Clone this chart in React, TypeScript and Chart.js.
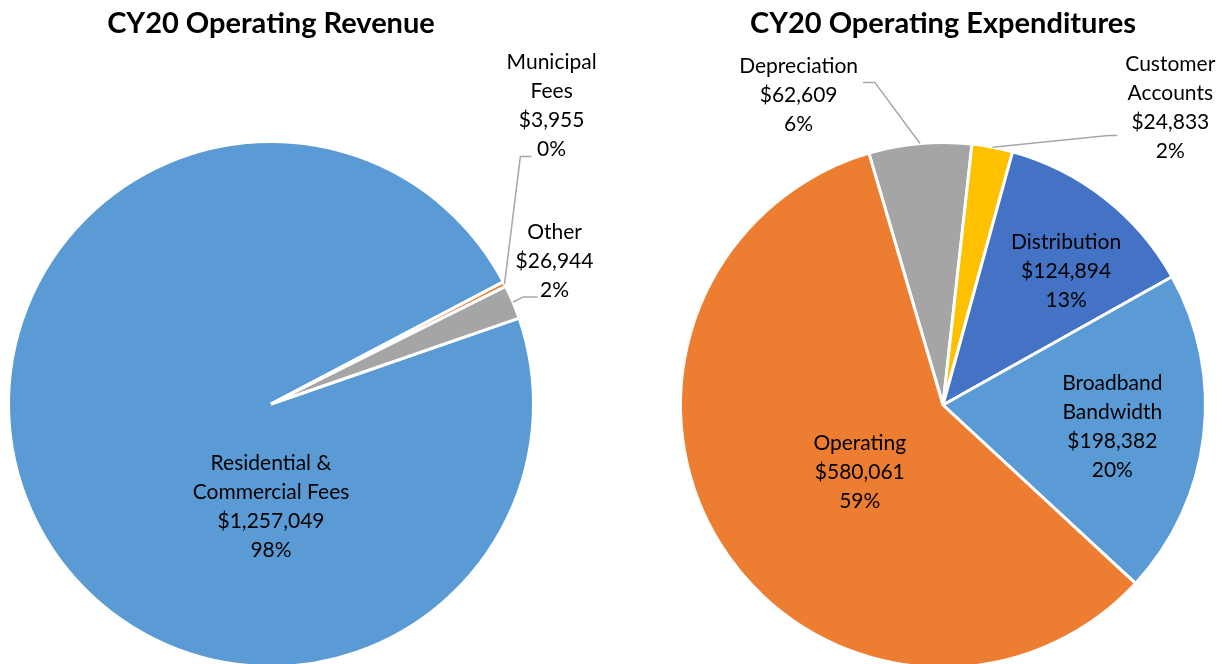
import React, { useEffect, useRef } from "react";
import { Chart, registerables } from "chart.js";

Chart.register(...registerables);

// ---------- data ----------
const revenueTitle = "CY20 Operating Revenue";
const revenueCategories = [["Residential &", "Commercial Fees"], ["Municipal", "Fees"], ["Other"]];
const revenueValues = [1257049, 3955, 26944];
const revenuePercents = ["98%", "0%", "2%"];

const expenseTitle = "CY20 Operating Expenditures";
const expenseCategories = [["Depreciation"], ["Customer", "Accounts"], ["Distribution"], ["Broadband", "Bandwidth"], ["Operating"]];
const expenseValues = [62609, 24833, 124894, 198382, 580061];
const expensePercents = ["6%", "2%", "13%", "20%", "59%"];

// ---------- styles / layout ----------
const revenueColors = ["#5B9BD5", "#ED7D31", "#A5A5A5"];
const expenseColors = ["#A5A5A5", "#FFC000", "#4472C4", "#5B9BD5", "#ED7D31"];

type LabelLayout = { x: number; y: number; leader?: number[][] };
// label block centres and leader points, in units of the pie radius, relative to the pie centre
const revenueLabelLayout: LabelLayout[] = [
  { x: 0.0, y: 0.39 },
  { x: 1.069, y: -1.139, leader: [[0.992, -0.943], [0.95, -0.943]] },
  { x: 1.08, y: -0.546, leader: [[1.015, -0.408], [0.962, -0.408]] },
];
const expenseLabelLayout: LabelLayout[] = [
  { x: -0.55, y: -1.181, leader: [[-0.305, -1.229], [-0.26, -1.229]] },
  { x: 0.866, y: -1.135, leader: [[0.664, -1.027], [0.63, -1.027]] },
  { x: 0.469, y: -0.511 },
  { x: 0.645, y: 0.08 },
  { x: -0.317, y: 0.256 },
];

const FONT = "Lato, 'Open Sans', sans-serif";
const LINE_H = 29;

function fmtMoney(v: number) {
  return "$" + v.toLocaleString("en-US");
}

function labelPlugin(title: string, cats: string[][], values: number[], percents: string[], layout: LabelLayout[]) {
  return {
    id: "pieLabels",
    afterDraw(chart: any) {
      const ctx = chart.ctx as CanvasRenderingContext2D;
      const meta = chart.getDatasetMeta(0);
      const first = meta.data[0];
      const cx = first.x;
      const cy = first.y;
      const R = first.outerRadius;
      ctx.save();
      ctx.fillStyle = "#000";
      ctx.textAlign = "center";
      ctx.textBaseline = "alphabetic";
      ctx.font = `bold 29px ${FONT}`;
      ctx.fillText(title, cx, 33);

      ctx.font = `21px ${FONT}`;
      meta.data.forEach((arc: any, i: number) => {
        const lay = layout[i];
        const lines = [...cats[i], fmtMoney(values[i]), percents[i]];
        const bx = cx + lay.x * R;
        const by = cy + lay.y * R;
        lines.forEach((ln, j) => {
          const y = by + (j - (lines.length - 1) / 2) * LINE_H + 7;
          ctx.fillText(ln, bx, y);
        });
        if (lay.leader) {
          const mid = (arc.startAngle + arc.endAngle) / 2;
          ctx.beginPath();
          ctx.strokeStyle = "#A6A6A6";
          ctx.lineWidth = 1.5;
          lay.leader.forEach((p, k) => {
            const px = cx + p[0] * R;
            const py = cy + p[1] * R;
            if (k === 0) ctx.moveTo(px, py);
            else ctx.lineTo(px, py);
          });
          ctx.lineTo(cx + Math.cos(mid) * R, cy + Math.sin(mid) * R);
          ctx.stroke();
        }
      });
      ctx.restore();
    },
  };
}

function PieChart(props: {
  width: number;
  height: number;
  padding: { left: number; right: number; top: number; bottom: number };
  rotation: number;
  title: string;
  cats: string[][];
  values: number[];
  percents: string[];
  colors: string[];
  layout: LabelLayout[];
}) {
  const ref = useRef<HTMLCanvasElement>(null);
  useEffect(() => {
    const canvas = ref.current!;
    const chart = new Chart(canvas, {
      type: "pie",
      data: {
        labels: props.cats.map((c) => c.join(" ")),
        datasets: [
          {
            data: props.values,
            backgroundColor: props.colors,
            borderColor: "#FFFFFF",
            borderWidth: 3,
          },
        ],
      },
      options: {
        responsive: false,
        animation: false,
        rotation: props.rotation,
        layout: { padding: props.padding },
        plugins: {
          legend: { display: false },
          tooltip: { enabled: false },
          title: { display: false },
        },
      },
      plugins: [labelPlugin(props.title, props.cats, props.values, props.percents, props.layout)],
    } as any);
    return () => chart.destroy();
  }, []);
  return <canvas ref={ref} width={props.width} height={props.height} style={{ display: "block" }} />;
}

export default function App() {
  return (
    <div
      style={{
        position: "absolute",
        left: 0,
        top: 0,
        width: 1229,
        height: 664,
        overflow: "hidden",
        background: "#fff",
      }}
    >
      <div style={{ position: "absolute", left: 0, top: 0 }}>
        <PieChart
          width={614}
          height={700}
          padding={{ left: 7, right: 79, top: 140, bottom: 32 }}
          rotation={70.9}
          title={revenueTitle}
          cats={revenueCategories}
          values={revenueValues}
          percents={revenuePercents}
          colors={revenueColors}
          layout={revenueLabelLayout}
        />
      </div>
      <div style={{ position: "absolute", left: 614, top: 0 }}>
        <PieChart
          width={615}
          height={700}
          padding={{ left: 65, right: 22, top: 141, bottom: 31 }}
          rotation={-16.4}
          title={expenseTitle}
          cats={expenseCategories}
          values={expenseValues}
          percents={expensePercents}
          colors={expenseColors}
          layout={expenseLabelLayout}
        />
      </div>
    </div>
  );
}
